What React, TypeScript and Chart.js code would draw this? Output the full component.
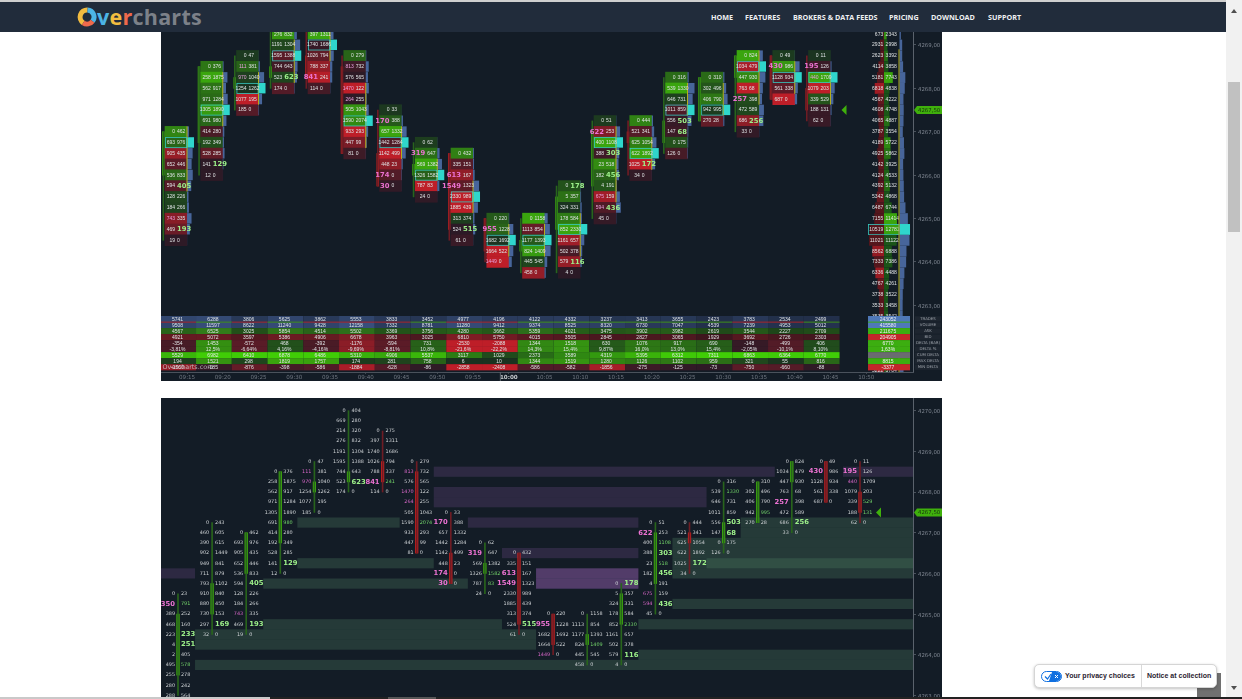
import { useEffect, useRef } from "react";
import { Chart, registerables } from "chart.js";

Chart.register(...registerables);

/* ---------- footprint data: each row is a 0.25 price step going down from the bar's top price ---------- */
const barTopPrices = [4265.5, 4267.25, 4267, 4268.5, 4268.75, 4270, 4269.5, 4268.75, 4267.5, 4266.75, 4266.5, 4265, 4265, 4265.75, 4267.25, 4267.25, 4268.25, 4268.25, 4268.75, 4268.75, 4268.75];
const bodyHighs = [4265, 4265.75, 4267, 4268.5, 4268.25, 4268.5, 4268.75, 4268.5, 4266.5, 4266.25, 4266.5, 4265, 4264.5, 4265.5, 4267, 4267, 4267.25, 4268.25, 4268.75, 4268.75, 4268];
const bodyLows = [4263.5, 4265, 4266, 4266.75, 4268, 4268.25, 4268.25, 4266.5, 4265.75, 4266, 4264.75, 4264.25, 4264.25, 4264.75, 4265.75, 4266.75, 4266.75, 4267.25, 4268.25, 4267.75, 4267.5];
const barIsUp = [1, 1, 1, 1, 1, 1, 0, 0, 0, 1, 0, 0, 1, 1, 1, 0, 1, 1, 1, 0, 0];
const bidRows = [
  [0, 350, 389, 468, 223, 4, 2, 495, 255, 280, 288],
  [0, 460, 390, 902, 949, 711, 793, 910, 880, 730, 297, 32],
  [0, 693, 905, 652, 536, 594, 128, 184, 743, 469, 19],
  [0, 258, 562, 971, 1305, 691, 414, 192, 528, 141, 12],
  [0, 111, 970, 1254, 1077, 185],
  [0, 669, 214, 276, 1191, 1595, 744, 523, 174],
  [0, 397, 1740, 1026, 788, 841, 114],
  [0, 813, 576, 1470, 264, 505, 1590, 933, 447, 81],
  [0, 170, 657, 1442, 1142, 448, 174, 30],
  [0, 319, 569, 1326, 787, 24],
  [0, 335, 613, 1549, 2330, 1885, 313, 524, 61],
  [0, 955, 1682, 1664, 1449],
  [0, 1113, 1177, 824, 445, 458],
  [0, 5, 324, 178, 852, 1161, 502, 579, 4],
  [0, 622, 400, 388, 23, 182, 4, 675, 594, 45],
  [0, 521, 625, 622, 1025, 34],
  [0, 539, 646, 1011, 556, 147, 0, 126],
  [0, 302, 406, 942, 270],
  [0, 1034, 447, 763, 257, 472, 686, 33],
  [0, 430, 1128, 561, 687],
  [0, 195, 440, 1079, 339, 188, 62],
];
const askRows = [
  [23, 791, 252, 160, 233, 251, 405, 578, 278, 242, 564],
  [243, 605, 615, 1449, 841, 879, 1102, 840, 450, 153, 169, 0],
  [462, 976, 435, 446, 833, 405, 226, 266, 335, 193, 0],
  [376, 1875, 917, 1284, 1890, 980, 280, 349, 285, 129, 0],
  [47, 381, 1040, 1262, 195, 0],
  [404, 280, 320, 832, 1304, 1388, 643, 623, 0],
  [275, 1311, 1686, 794, 337, 241, 0],
  [279, 732, 565, 122, 255, 1043, 2074, 293, 99, 0],
  [33, 388, 1332, 1284, 499, 23, 0, 0],
  [62, 647, 1382, 1582, 83, 0],
  [432, 151, 167, 1323, 989, 439, 374, 515, 0],
  [220, 1228, 1692, 522, 0],
  [1158, 854, 1393, 1409, 545, 0],
  [178, 357, 331, 584, 2330, 657, 378, 116, 0],
  [51, 253, 1108, 303, 518, 456, 191, 159, 436, 0],
  [444, 341, 1054, 1892, 172, 0],
  [316, 1330, 731, 859, 503, 68, 175, 0],
  [310, 496, 790, 995, 28],
  [824, 479, 930, 68, 398, 589, 256, 0],
  [49, 986, 934, 338, 0],
  [11, 126, 1709, 203, 529, 131, 0],
];
/* numbers that the platform prints large or tinted, listed per bar */
const askBigByBar = [[233, 251], [169], [405, 193], [129], [], [623], [], [], [], [], [515], [], [], [178, 116], [303, 456, 436], [172], [503, 68], [], [256], [], []];
const bidBigByBar = [[350], [], [], [], [], [], [841], [], [170, 174, 30], [319], [613, 1549], [955], [], [], [622], [], [], [], [257], [430], [195]];
const askTintByBar = [[791, 578], [], [], [980], [], [], [241], [2074], [], [1582, 83], [], [], [1409], [2330], [518, 1108], [], [1330], [995], [], [], [529, 131]];
const bidTintByBar = [[], [], [743], [], [111, 970], [], [], [813, 1470, 264], [], [], [], [1449], [], [], [675, 594], [], [], [], [], [], [440]];

/* ---------- resting levels of the lower chart: [price, from bar, to bar] ---------- */
const greenBands = [
  [4267.25, 3, 6], [4266.25, 3, 7], [4265.75, 2, 8], [4264.75, 2, 9], [4264.5, 0, 10], [4264.25, 0, 10], [4263.75, 0, 21],
  [4264, 13, 21], [4264.75, 13, 21], [4265.25, 14, 21], [4266.75, 14, 21], [4266.5, 14, 21], [4266.25, 14, 21], [4266, 14, 21],
  [4266.25, 15, 21], [4267.25, 16, 21], [4267, 16, 21],
];
const purpleBands = [
  [4266, -1, 0], [4268.5, 7, 17], [4268.5, 19, 21], [4268, 7, 15], [4267.75, 7, 15], [4267.25, 8, 13], [4266.5, 9, 13],
  [4266, 10, 13], [4265.75, 10, 13], [4266, 10, 13], [4265.75, 10, 13], [4266, 10, 13], [4265.75, 10, 13],
];

/* ---------- session profile of the upper chart ---------- */
const sessionPrices = [4269.25, 4269, 4268.75, 4268.5, 4268.25, 4268, 4267.75, 4267.5, 4267.25, 4267, 4266.75, 4266.5, 4266.25, 4266, 4265.75, 4265.5, 4265.25, 4265, 4264.75, 4264.5, 4264.25, 4264, 4263.75, 4263.5, 4263.25, 4263, 4262.75, 4261.5];
const sessionBids = [673, 2931, 2623, 4114, 5181, 6818, 4567, 4608, 4065, 3787, 4189, 4925, 4142, 4124, 4392, 5342, 6487, 7155, 10519, 11021, 8562, 7333, 6336, 4767, 3738, 3533, 3535, 5222];
const sessionAsks = [2343, 2998, 3392, 3858, 7743, 4838, 4222, 4748, 4887, 3554, 5722, 5862, 3925, 4533, 5132, 4868, 6744, 11414, 12781, 11122, 6888, 7386, 4488, 4261, 3522, 3458, 3542, 3704];

/* ---------- bar statistics table ---------- */
const timeLabels = ["09:15", "09:20", "09:25", "09:30", "09:35", "09:40", "09:45", "09:50", "09:55", "10:00", "10:05", "10:10", "10:15", "10:20", "10:25", "10:30", "10:35", "10:40", "10:45", "10:50"];
const tradesRow = [5741, 6288, 3806, 5625, 3862, 5553, 3833, 3452, 4977, 4196, 4122, 4332, 3237, 3413, 3655, 2423, 3783, 2534, 2499];
const volumeRow = [9508, 11597, 8622, 11240, 9428, 12158, 7332, 8781, 11280, 9412, 9374, 8525, 8320, 6730, 7047, 4539, 7239, 4953, 5012];
const askRow = [4567, 6525, 3025, 5854, 4514, 5502, 3369, 3756, 4280, 3662, 5359, 4021, 3475, 3902, 3982, 2619, 3544, 2227, 2709];
const bidRow = [4921, 5072, 3597, 5386, 4906, 6678, 3963, 3025, 6810, 5750, 4015, 3505, 2845, 2827, 3065, 1929, 3692, 2726, 2303];
const deltaRow = [-354, 1453, -572, 468, -392, -1176, -594, 731, -2530, -2088, 1344, 1518, 630, 1076, 917, 690, -148, -499, 406];
const deltaPctRow = ["-3,81%", "12,5%", "-6,64%", "4,16%", "-4,16%", "-9,69%", "-8,81%", "10,8%", "-21,6%", "-22,2%", "14,3%", "15,4%", "9,87%", "16,0%", "13,0%", "15,4%", "-2,05%", "-10,1%", "8,10%"];
const cumDeltaRow = [5529, 6982, 6410, 6878, 6486, 5310, 4906, 5537, 3117, 1029, 2373, 3589, 4319, 5395, 6312, 7311, 6863, 6364, 6770];
const maxDeltaRow = [194, 1521, 298, 1819, 1757, 174, 281, 758, 6, 10, 1344, 1519, 1280, 1126, 1102, 959, 321, 55, 816];
const minDeltaRow = [-1560, -185, -876, -398, -586, -1884, -628, -86, -2858, -2408, -586, -582, -1856, -275, -125, -73, -750, -660, -88];
const tableRowLabels = ["TRADES", "VOLUME", "ASK", "BID", "DELTA (BAR)", "DELTA %", "CUM DELTA", "MAX DELTA", "MIN DELTA"];
const sessionSummary = ["243052", "415580", "211675", "204905", "6770", "1,63%", "", "8815", "-3377"];

const topPriceTicks = [4269, 4268, 4267, 4266, 4265, 4264, 4263];
const bottomPriceTicks = [4270, 4269, 4268, 4267, 4266, 4265, 4264, 4263];
const lastPrice = 4267.5;
const navItems: [string, number][] = [["HOME", 711], ["FEATURES", 745], ["BROKERS & DATA FEEDS", 793], ["PRICING", 889], ["DOWNLOAD", 931], ["SUPPORT", 988]];

/* ---------- drawing helpers ---------- */
type RGB = [number, number, number];
const BG = "#131c26";
const mix = (a: RGB, b: RGB, t: number) => {
  const k = Math.max(0, Math.min(1, t));
  return `rgb(${a.map((v, i) => Math.round(v + (b[i] - v) * k)).join(",")})`;
};
const GREEN_LOW: RGB = [26, 50, 32];
const GREEN_HIGH: RGB = [58, 165, 14];
const RED_LOW: RGB = [42, 26, 38];
const RED_HIGH: RGB = [190, 30, 40];
const deltaColor = (d: number, full: number) => (d >= 0 ? mix(GREEN_LOW, GREEN_HIGH, d / full) : mix(RED_LOW, RED_HIGH, -d / full));
const rowPrice = (bar: number, row: number) => barTopPrices[bar] - 0.25 * row;
const barIndexes = barTopPrices.map((_, i) => i);
const volumes = (bar: number) => bidRows[bar].map((b, r) => b + askRows[bar][r]);
const pocRow = (bar: number) => {
  const v = volumes(bar);
  return v.indexOf(Math.max(...v));
};
const valueArea = (bar: number): [number, number] => {
  const v = volumes(bar);
  const total = v.reduce((a, b) => a + b, 0);
  let lo = pocRow(bar);
  let hi = lo;
  let sum = v[lo];
  while (sum < total * 0.7) {
    const up = hi > 0 ? v[hi - 1] : -1;
    const down = lo < v.length - 1 ? v[lo + 1] : -1;
    if (up >= down) sum += v[--hi];
    else sum += v[++lo];
  }
  return [hi, lo];
};

const wickPoints = (offset: number) =>
  barIndexes.map((i) => ({ x: i + offset, y: [rowPrice(i, bidRows[i].length - 1), barTopPrices[i]] }));
const bodyPoints = (offset: number) => barIndexes.map((i) => ({ x: i + offset, y: [bodyLows[i], bodyHighs[i]] }));
const wickColors = barIsUp.map((u) => (u ? "#28641c" : "#6e1c24"));
const bodyColors = barIsUp.map((u) => (u ? "#3fb00c" : "#c8201f"));

const TIME_BASE = 2.31;
const tickLabel = (t: any) => (t && t.tick ? timeLabels[Math.round(t.tick.value - TIME_BASE)] : "");
const BIG_FONT = "bold 6.8px 'DejaVu Sans'";

const baseOptions = (xMin: number, xMax: number, yMin: number, yMax: number, priceTicks: number[]) => ({
  animation: false as const,
  responsive: false,
  devicePixelRatio: 1,
  events: [] as any[],
  layout: { padding: 0 },
  plugins: { legend: { display: false }, tooltip: { enabled: false } },
  datasets: { bar: { grouped: false, borderWidth: 0 } },
  scales: {
    y: {
      type: "linear" as const,
      position: "right" as const,
      min: yMin,
      max: yMax,
      beginAtZero: false,
      afterBuildTicks: (s: any) => {
        s.ticks = priceTicks.map((value) => ({ value }));
      },
      afterFit: (s: any) => {
        s.width = 29;
        s.paddingTop = 0;
        s.paddingBottom = 0;
      },
      grid: { drawOnChartArea: false, tickLength: 3, color: "#4a525c" },
      border: { color: "#5a626c" },
      ticks: {
        padding: 2,
        color: "#7e8590",
        autoSkip: false,
        labelOffset: 1,
        font: { family: "DejaVu Sans", size: 5.4 },
        callback: (v: any) => Number(v).toFixed(2).replace(".", ","),
      },
    },
    x: {
      type: "linear" as const,
      min: xMin,
      max: xMax,
      offset: false,
    } as any,
  },
});

function FootprintCharts() {
  const topRef = useRef<HTMLCanvasElement>(null);
  const bottomRef = useRef<HTMLCanvasElement>(null);

  useEffect(() => {
    const px = (c: any, v: number) => c.scales.x.getPixelForValue(v);
    const py = (c: any, v: number) => c.scales.y.getPixelForValue(v);

    const drawFlag = (c: any, ctx: CanvasRenderingContext2D, markerX: number) => {
      const y = py(c, lastPrice);
      const a = c.chartArea.right;
      ctx.fillStyle = "#3fb00c";
      ctx.beginPath();
      ctx.moveTo(a + 1, y);
      ctx.lineTo(a + 4, y - 4);
      ctx.lineTo(c.width, y - 4);
      ctx.lineTo(c.width, y + 4);
      ctx.lineTo(a + 4, y + 4);
      ctx.closePath();
      ctx.fill();
      ctx.beginPath();
      ctx.moveTo(markerX, y);
      ctx.lineTo(markerX + 5, y - 5);
      ctx.lineTo(markerX + 5, y + 5);
      ctx.closePath();
      ctx.fill();
      ctx.fillStyle = "#16320f";
      ctx.font = "5.4px 'DejaVu Sans'";
      ctx.textAlign = "left";
      ctx.textBaseline = "middle";
      ctx.fillText(lastPrice.toFixed(2).replace(".", ","), a + 5, y + 0.3);
    };

    /* ---------- upper chart: boxed footprint, session profile, table ---------- */
    const upperOverlay = {
      id: "upperOverlay",
      afterDatasetsDraw(c: any) {
        const { ctx, chartArea: area } = c;
        const rowH = Math.abs(py(c, 4268) - py(c, 4268.25));
        const half = 11;
        ctx.save();
        ctx.beginPath();
        ctx.rect(area.left, area.top, area.right - area.left, area.bottom - area.top);
        ctx.clip();
        ctx.textBaseline = "middle";
        barIndexes.forEach((i) => {
          const cx = px(c, i);
          const v = volumes(i);
          const poc = pocRow(i);
          const pocVol = v[poc];
          const [vaTop, vaBottom] = valueArea(i);
          v.forEach((vol, r) => {
            const y = py(c, rowPrice(i, r));
            const w = 7 * (vol / pocVol);
            ctx.fillStyle = r === poc ? "#2fd6cc" : "#47659a";
            ctx.fillRect(cx + half, y - rowH / 2, w, rowH - 0.4);
          });
          ctx.strokeStyle = "#b3ad1c";
          ctx.lineWidth = 1;
          ctx.beginPath();
          ctx.moveTo(cx + half, py(c, rowPrice(i, vaTop)) - rowH / 2);
          ctx.lineTo(cx + half, py(c, rowPrice(i, vaBottom)) + rowH / 2);
          ctx.stroke();
          ctx.strokeStyle = "#38c9c0";
          ctx.lineWidth = 0.8;
          ctx.strokeRect(cx - half + 0.4, py(c, rowPrice(i, poc)) - rowH / 2 + 0.4, 2 * half - 0.8, rowH - 0.8);
          bidRows[i].forEach((bid, r) => {
            const ask = askRows[i][r];
            const y = py(c, rowPrice(i, r));
            const bigB = bidBigByBar[i].includes(bid);
            const bigA = askBigByBar[i].includes(ask);
            ctx.textAlign = "right";
            ctx.font = bigB ? BIG_FONT : "5px 'Liberation Sans'";
            ctx.fillStyle = bigB ? "#ec72d2" : bidTintByBar[i].includes(bid) ? "#e7a0dc" : "#dfe2e4";
            ctx.fillText(String(bid), cx - 1, y);
            ctx.textAlign = "left";
            ctx.font = bigA ? BIG_FONT : "5px 'Liberation Sans'";
            ctx.fillStyle = bigA ? "#9df08a" : "#dfe2e4";
            ctx.fillText(String(ask), cx + 1, y);
          });
        });

        /* session profile */
        const sx = px(c, 21.804);
        const sessionVols = sessionBids.map((b, i) => b + sessionAsks[i]);
        const maxVol = Math.max(...sessionVols);
        sessionPrices.forEach((p, i) => {
          const y = py(c, p);
          const bid = sessionBids[i];
          const ask = sessionAsks[i];
          const d = ask - bid;
          ctx.fillStyle = mix([84, 22, 28], [176, 28, 36], -d / 2400);
          const bw = (15 * bid) / 11021;
          ctx.fillRect(sx - bw, y - rowH / 2, bw, rowH);
          ctx.fillStyle = mix([26, 82, 24], [58, 165, 14], d / 2400);
          ctx.fillRect(sx, y - rowH / 2, (14.5 * ask) / 12781, rowH);
          const isPoc = sessionVols[i] === maxVol;
          ctx.fillStyle = isPoc ? "#2fd6cc" : "#47659a";
          ctx.fillRect(sx + 15.5, y - rowH / 2, (10.5 * sessionVols[i]) / maxVol, rowH);
          ctx.font = "5px 'Liberation Sans'";
          ctx.fillStyle = "#dfe2e4";
          ctx.textAlign = "right";
          ctx.fillText(String(bid), sx - 0.8, y);
          ctx.textAlign = "left";
          ctx.fillText(String(ask), sx + 1.6, y);
          if (isPoc) {
            ctx.strokeStyle = "#38c9c0";
            ctx.lineWidth = 0.8;
            ctx.strokeRect(sx - 15.5, y - rowH / 2 + 0.4, 30.5, rowH - 0.8);
          }
        });
        ctx.strokeStyle = "#b3ad1c";
        ctx.lineWidth = 1;
        ctx.beginPath();
        ctx.moveTo(sx + 15, py(c, 4268.9));
        ctx.lineTo(sx + 15, area.bottom);
        ctx.stroke();
        ctx.restore();

        /* statistics table */
        const tableTop = area.bottom - 56;
        const tableRowH = 6.02;
        const cellColor = (k: number, col: number) => {
          switch (k) {
            case 0:
              return mix([22, 30, 46], [52, 74, 116], tradesRow[col] / 6300);
            case 1:
              return mix([22, 30, 46], [56, 78, 124], volumeRow[col] / 12200);
            case 2:
              return mix([20, 42, 24], [50, 125, 26], askRow[col] / 6600);
            case 3:
              return mix([38, 20, 28], [128, 28, 36], bidRow[col] / 6900);
            case 4:
            case 5:
              return deltaColor(deltaRow[col], 1800);
            case 6:
              return mix(GREEN_LOW, [64, 205, 6], cumDeltaRow[col] / 6500);
            case 7:
              return mix(GREEN_LOW, GREEN_HIGH, maxDeltaRow[col] / 1800);
            default:
              return mix(RED_LOW, RED_HIGH, -minDeltaRow[col] / 2200);
          }
        };
        const tableValues = [tradesRow, volumeRow, askRow, bidRow, deltaRow, deltaPctRow, cumDeltaRow, maxDeltaRow, minDeltaRow];
        ctx.textBaseline = "middle";
        ctx.textAlign = "center";
        ctx.font = "5px 'Liberation Sans'";
        tableValues.forEach((values, k) => {
          const y = tableTop + k * tableRowH;
          (values as (number | string)[]).forEach((value, col) => {
            const i = col + 2;
            const x0 = Math.max(area.left, px(c, i - 0.44));
            const x1 = px(c, i + 0.56);
            ctx.fillStyle = cellColor(k, col);
            ctx.fillRect(x0, y, x1 - x0, tableRowH + 0.2);
            if (k === 1) {
              ctx.fillStyle = deltaRow[col] >= 0 ? "#3f8f1c" : "#a8262a";
              ctx.fillRect(x0, y - 0.4, x1 - x0, 1);
            }
            ctx.fillStyle = "#dfe3e6";
            ctx.fillText(String(value), (x0 + x1) / 2 - 1, y + tableRowH / 2 + 0.2);
          });
        });

        /* session column of the table */
        const sessionColors = ["#4f78b8", "#4f78b8", "#3cae10", "#c4262a", "#3cae10", "#3cae10", "#6a6c70", "#3cae10", "#c4262a"];
        sessionSummary.forEach((value, k) => {
          const y = tableTop + k * tableRowH;
          ctx.fillStyle = sessionColors[k];
          ctx.fillRect(sx - 16, y, 42, tableRowH + 0.2);
          if (k === 1) {
            ctx.fillStyle = "#3cae10";
            ctx.fillRect(sx - 16, y - 0.4, 42, 1);
          }
          ctx.fillStyle = "#eef0f2";
          ctx.fillText(value, sx + 4, y + tableRowH / 2 + 0.2);
        });

        /* row names beside the price axis */
        ctx.font = "3.9px 'DejaVu Sans'";
        tableRowLabels.forEach((label, k) => {
          const y = tableTop + k * tableRowH;
          ctx.fillStyle = "#1d252f";
          ctx.fillRect(area.right + 2, y + 0.3, 26, tableRowH - 0.6);
          ctx.fillStyle = "#9aa0a8";
          ctx.fillText(label, area.right + 15, y + tableRowH / 2 + 0.2);
        });

        /* watermark and bold-hour divider */
        ctx.fillStyle = "rgba(205,210,215,0.8)";
        ctx.textAlign = "left";
        ctx.font = "6.4px 'DejaVu Sans'";
        ctx.fillText("Overcharts.com", area.left + 1.5, tableTop + 8.5 * tableRowH + 0.3);
        ctx.strokeStyle = "#5a626c";
        ctx.lineWidth = 1;
        const hourX = px(c, 9 + TIME_BASE) - 8.5;
        ctx.beginPath();
        ctx.moveTo(hourX, area.bottom);
        ctx.lineTo(hourX, c.height);
        ctx.stroke();

        drawFlag(c, ctx, px(c, 20) + 22);
      },
    };

    const upperCells = barIndexes.flatMap((i) => bidRows[i].map((b, r) => ({ i, r, b, a: askRows[i][r] })));
    const upperBase = baseOptions(1.58, 22.615, 4261.465, 4269.2995, topPriceTicks);
    const top = new Chart(topRef.current as any, {
      type: "bar",
      data: {
        datasets: [
          {
            data: upperCells.map((c) => ({ x: c.i, y: [rowPrice(c.i, c.r) - 0.125, rowPrice(c.i, c.r) + 0.125] })),
            backgroundColor: upperCells.map((c) => deltaColor(c.a - c.b, 640)),
            barThickness: 22,
          } as any,
          { data: wickPoints(-0.355), backgroundColor: wickColors, barThickness: 1 } as any,
          { data: bodyPoints(-0.355), backgroundColor: bodyColors, barThickness: 2 } as any,
        ],
      },
      options: {
        ...upperBase,
        scales: {
          ...upperBase.scales,
          x: {
            ...upperBase.scales.x,
            afterBuildTicks: (s: any) => {
              s.ticks = timeLabels.map((_, k) => ({ value: k + TIME_BASE }));
            },
            afterFit: (s: any) => {
              s.height = 9;
              s.paddingLeft = 0;
              s.paddingRight = 0;
            },
            grid: { drawOnChartArea: false, offset: false, tickLength: 2, color: "#3e464f" },
            border: { color: "#4a525c" },
            ticks: {
              autoSkip: false,
              maxRotation: 0,
              padding: 0,
              color: (t: any) => (tickLabel(t) === "10:00" ? "#c4c8cc" : "#6f7680"),
              font: (t: any) =>
                tickLabel(t) === "10:00"
                  ? { family: "DejaVu Sans", size: 5.6, weight: "bold" }
                  : { family: "DejaVu Sans", size: 5.6 },
              callback: (v: any) => timeLabels[Math.round(Number(v) - TIME_BASE)],
            },
          },
        } as any,
      } as any,
      plugins: [upperOverlay],
    });

    /* ---------- lower chart: open footprint with resting levels ---------- */
    const lowerOverlay = {
      id: "lowerOverlay",
      beforeDatasetsDraw(c: any) {
        const { ctx, chartArea: area } = c;
        const rowH = Math.abs(py(c, 4268) - py(c, 4268.25));
        const draw = (bands: number[][], color: string) => {
          ctx.fillStyle = color;
          bands.forEach(([price, from, to]) => {
            const x0 = Math.max(area.left, px(c, from + 0.5));
            const x1 = to >= 21 ? area.right : px(c, to + 0.5);
            ctx.fillRect(x0, py(c, price) - rowH / 2, x1 - x0, rowH);
          });
        };
        draw(greenBands, "rgba(80,130,100,0.3)");
        draw(purpleBands, "rgba(140,90,170,0.22)");
      },
      afterDatasetsDraw(c: any) {
        const { ctx } = c;
        ctx.textBaseline = "middle";
        barIndexes.forEach((i) => {
          const cx = px(c, i);
          bidRows[i].forEach((bid, r) => {
            const ask = askRows[i][r];
            const y = py(c, rowPrice(i, r));
            const bigB = bidBigByBar[i].includes(bid);
            const bigA = askBigByBar[i].includes(ask);
            ctx.textAlign = "right";
            ctx.font = bigB ? BIG_FONT : "4.9px 'DejaVu Sans'";
            ctx.fillStyle = bigB ? "#ec72d2" : bidTintByBar[i].includes(bid) ? "#d867c8" : "#cfd3d6";
            ctx.fillText(String(bid), cx - 3, y);
            ctx.textAlign = "left";
            ctx.font = bigA ? BIG_FONT : "4.9px 'DejaVu Sans'";
            ctx.fillStyle = bigA ? "#9df08a" : askTintByBar[i].includes(ask) ? "#73d46a" : "#cfd3d6";
            ctx.fillText(String(ask), cx + 3, y);
          });
        });
        drawFlag(c, ctx, px(c, 20) + 16);
      },
    };

    const lowerBase = baseOptions(-0.4985, 21.554, 4262.913, 4270.312, bottomPriceTicks);
    const bottom = new Chart(bottomRef.current as any, {
      type: "bar",
      data: {
        datasets: [
          { data: wickPoints(0), backgroundColor: wickColors, barThickness: 1 } as any,
          { data: bodyPoints(0), backgroundColor: bodyColors, barThickness: 2.6 } as any,
        ],
      },
      options: {
        ...lowerBase,
        scales: {
          ...lowerBase.scales,
          x: { ...lowerBase.scales.x, display: false, grid: { offset: false } },
        } as any,
      } as any,
      plugins: [lowerOverlay],
    });

    return () => {
      top.destroy();
      bottom.destroy();
    };
  }, []);

  const canvasStyle = { position: "absolute" as const, left: 161, background: BG, filter: "blur(0.4px)" };
  return (
    <>
      <canvas ref={topRef} width={781} height={349} style={{ ...canvasStyle, top: 32, width: 781, height: 349 }} />
      <canvas ref={bottomRef} width={781} height={301} style={{ ...canvasStyle, top: 398, width: 781, height: 301 }} />
    </>
  );
}

function Logo() {
  const ring = (d: string, color: string) => <path d={d} fill="none" stroke={color} strokeWidth={5} />;
  return (
    <div style={{ position: "absolute", left: 77, top: 6, height: 22, display: "flex", alignItems: "center" }}>
      <svg width={20} height={20} viewBox="0 0 20 20" style={{ display: "block" }}>
        {ring("M 6.2 15.8 A 7 7 0 0 1 10.5 3", "#f2bc40")}
        {ring("M 10.5 3 A 7 7 0 0 1 15.6 14.2", "#4cb4e6")}
        {ring("M 15.6 14.2 A 7 7 0 0 1 6.2 15.8", "#ef6a4c")}
      </svg>
      <span style={{ font: "700 21.5px 'Open Sans'", letterSpacing: 0.25, lineHeight: "22px", marginLeft: 0 }}>
        <span style={{ color: "#4cb4e6" }}>v</span>
        <span style={{ color: "#f2bc40" }}>e</span>
        <span style={{ color: "#ef6a4c" }}>r</span>
        <span style={{ color: "#7c8189" }}>charts</span>
      </span>
    </div>
  );
}

export default function App() {
  return (
    <div style={{ position: "fixed", left: 0, top: 0, width: 1242, height: 699, overflow: "hidden", background: "#fff" }}>
      <FootprintCharts />

      {/* site header */}
      <div style={{ position: "absolute", left: 0, top: 0, width: 1226, height: 2, background: "#cfcfcf" }} />
      <div style={{ position: "absolute", left: 0, top: 2, width: 1226, height: 30, background: "#212c3b" }} />
      <Logo />
      {navItems.map(([label, left]) => (
        <span
          key={label}
          style={{ position: "absolute", left, top: 12, font: "700 7.2px/11px 'Open Sans'", color: "#eef0f2", whiteSpace: "nowrap" }}
        >
          {label}
        </span>
      ))}

      {/* page scrollbar */}
      <div style={{ position: "absolute", left: 1226, top: 0, width: 16, height: 699, background: "#f1f1f1" }} />
      <div style={{ position: "absolute", left: 1228, top: 82, width: 12, height: 150, background: "#c1c1c1" }} />
      <div style={{ position: "absolute", left: 1231, top: 9, width: 0, height: 0, borderLeft: "3.5px solid transparent", borderRight: "3.5px solid transparent", borderBottom: "4px solid #505050" }} />
      <div style={{ position: "absolute", left: 1231, top: 686, width: 0, height: 0, borderLeft: "3.5px solid transparent", borderRight: "3.5px solid transparent", borderTop: "4px solid #505050" }} />

      {/* privacy widget */}
      <div style={{ position: "absolute", left: 1197, top: 673, width: 24, height: 24, background: "#707070" }} />
      <div
        style={{
          position: "absolute", left: 1034, top: 664, width: 183, height: 24, background: "#fff", borderRadius: 5,
          border: "1px solid #d5d5d5", boxShadow: "0 1px 3px rgba(0,0,0,0.25)", boxSizing: "border-box",
          font: "700 7px/22px 'Liberation Sans'", color: "#2b2330",
        }}
      >
        <svg width={21} height={11} viewBox="0 0 21 11" style={{ position: "absolute", left: 6, top: 6 }}>
          <rect x={0.5} y={0.5} width={20} height={10} rx={5} fill="#fff" stroke="#0f6fe0" />
          <path d="M 11 1 H 15.5 A 4.5 4.5 0 0 1 15.5 10 H 8 Z" fill="#0f6fe0" />
          <path d="M 4 5.5 L 6.5 8 L 10 3" fill="none" stroke="#0f6fe0" strokeWidth={1.2} />
          <path d="M 14 4 L 17 7 M 17 4 L 14 7" stroke="#fff" strokeWidth={1} />
        </svg>
        <span style={{ position: "absolute", left: 30, top: 0, whiteSpace: "nowrap" }}>Your privacy choices</span>
        <div style={{ position: "absolute", left: 106, top: 0, width: 1, height: 22, background: "#d9d9d9" }} />
        <span style={{ position: "absolute", left: 112, top: 0, whiteSpace: "nowrap" }}>Notice at collection</span>
      </div>

      {/* horizontal scrollbar strip */}
      <div style={{ position: "absolute", left: 0, top: 697, width: 1242, height: 2, background: "#222" }} />
      <div style={{ position: "absolute", left: 0, top: 697, width: 270, height: 2, background: "#c9c9c9" }} />
      <div style={{ position: "absolute", left: 388, top: 697, width: 48, height: 2, background: "#565656" }} />
    </div>
  );
}
